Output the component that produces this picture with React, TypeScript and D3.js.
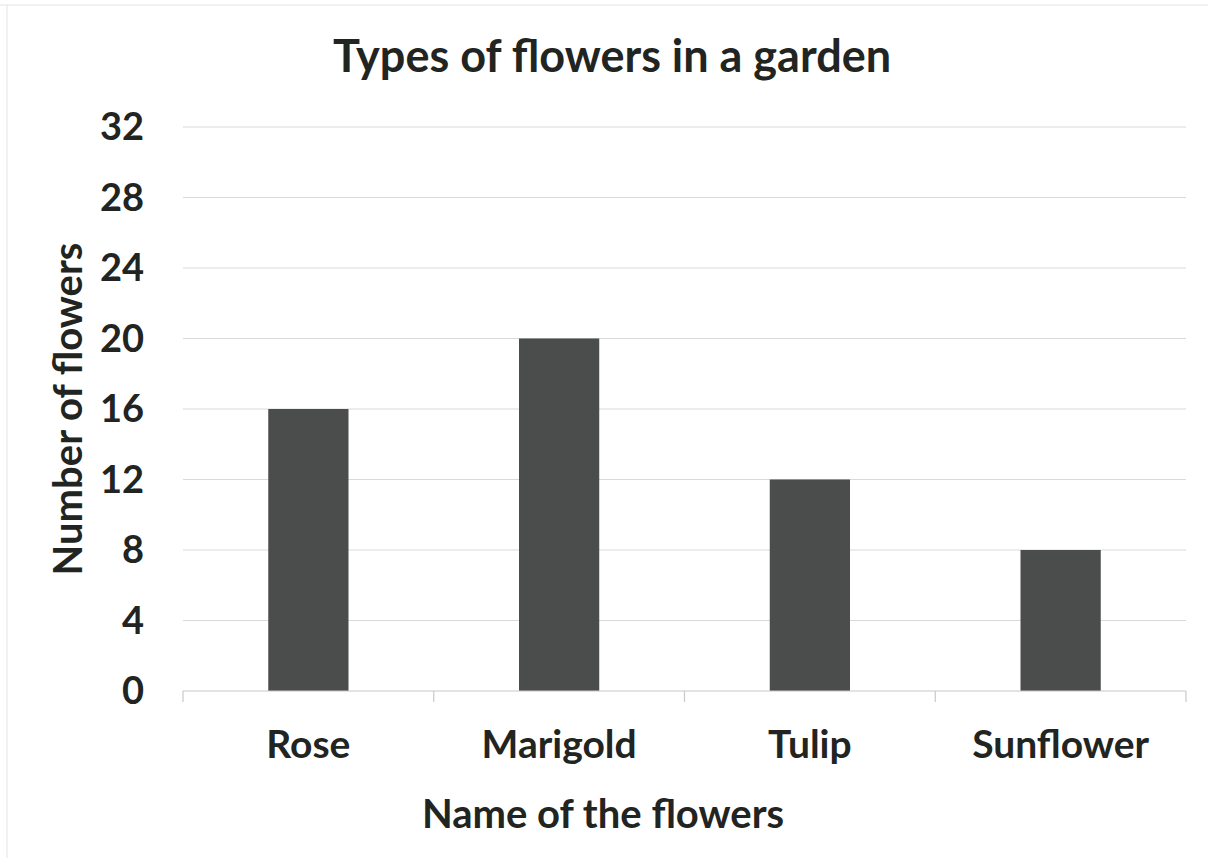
import React from "react";
import * as d3 from "d3";

const categories = ["Rose", "Marigold", "Tulip", "Sunflower"];
const values = [16, 20, 12, 8];
const yTicks = [0, 4, 8, 12, 16, 20, 24, 28, 32];

const W = 1208;
const H = 858;
const margin = { left: 183, right: 22, top: 127, bottom: 167 };
const FONT = "Lato, 'Open Sans', sans-serif";
const TEXT = "#222422";

export default function App() {
  const x = d3
    .scaleBand<string>()
    .domain(categories)
    .range([margin.left, W - margin.right])
    .paddingInner(0.68)
    .paddingOuter(0.34);
  const xOuter = d3
    .scaleBand<string>()
    .domain(categories)
    .range([margin.left, W - margin.right]);
  const y = d3
    .scaleLinear()
    .domain([0, 32])
    .range([H - margin.bottom, margin.top]);
  const x0 = margin.left;
  const x1 = W - margin.right;
  const base = y(0);
  const tickXs = [...categories.map((c) => xOuter(c) as number), x1];

  return (
    <svg
      width={W}
      height={H}
      style={{ position: "absolute", left: 0, top: 0, background: "#fff" }}
    >
      <line x1={0} x2={W} y1={5} y2={5} stroke="#e4e4e4" strokeWidth={1} />
      <line x1={7} x2={7} y1={5} y2={H} stroke="#e4e4e4" strokeWidth={1} />
      {yTicks.slice(1).map((t) => (
        <line key={t} x1={x0} x2={x1} y1={y(t)} y2={y(t)} stroke="#d9d9d9" strokeWidth={1} />
      ))}
      {categories.map((c, i) => (
        <rect
          key={c}
          x={x(c)}
          y={y(values[i])}
          width={x.bandwidth()}
          height={base - y(values[i])}
          fill="#4b4d4c"
        />
      ))}
      <line x1={x0} x2={x1} y1={base} y2={base} stroke="#c8c8c8" strokeWidth={1.2} />
      {tickXs.map((tx, i) => (
        <line key={i} x1={tx} x2={tx} y1={base} y2={base + 11} stroke="#c8c8c8" strokeWidth={1.2} />
      ))}
      {yTicks.map((t) => (
        <text
          key={t}
          x={144}
          y={y(t)}
          dy="0.35em"
          textAnchor="end"
          fontFamily={FONT}
          fontWeight={700}
          fontSize={38}
          fill={TEXT}
        >
          {t}
        </text>
      ))}
      {categories.map((c) => (
        <text
          key={c}
          x={(x(c) as number) + x.bandwidth() / 2}
          y={758}
          textAnchor="middle"
          fontFamily={FONT}
          fontWeight={700}
          fontSize={39}
          fill={TEXT}
        >
          {c}
        </text>
      ))}
      <text
        x={612}
        y={72}
        textAnchor="middle"
        fontFamily={FONT}
        fontWeight={700}
        fontSize={45}
        fill={TEXT}
      >
        Types of flowers in a garden
      </text>
      <text
        x={603}
        y={828}
        textAnchor="middle"
        fontFamily={FONT}
        fontWeight={700}
        fontSize={40}
        fill={TEXT}
      >
        Name of the flowers
      </text>
      <text
        transform={`translate(82, 409) rotate(-90)`}
        textAnchor="middle"
        fontFamily={FONT}
        fontWeight={700}
        fontSize={40}
        fill={TEXT}
      >
        Number of flowers
      </text>
    </svg>
  );
}
